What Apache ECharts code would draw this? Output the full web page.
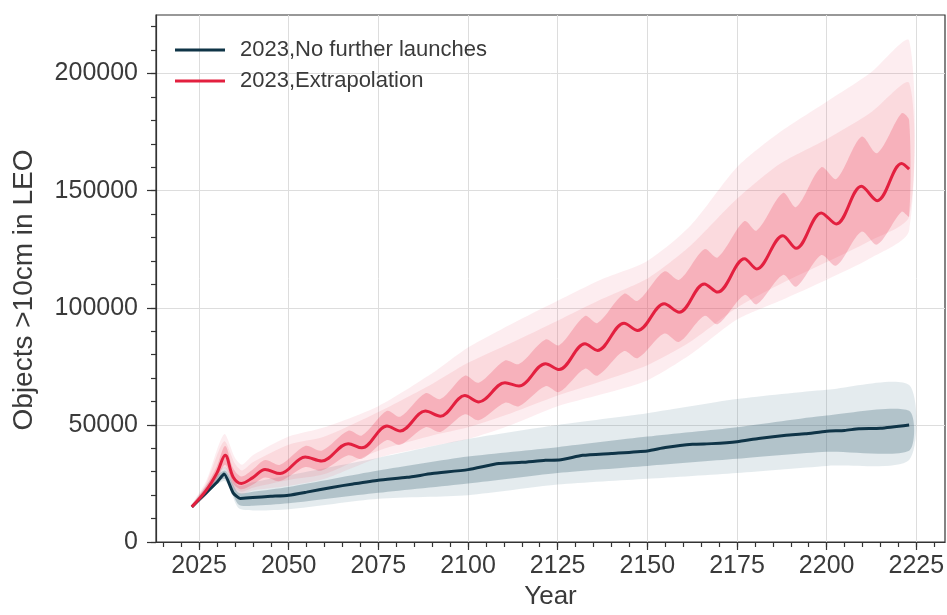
<!DOCTYPE html>
<html>
<head>
<meta charset="utf-8">
<script src="https://cdn.jsdelivr.net/npm/echarts@6/dist/echarts.min.js"></script>
<style>
  html, body { margin: 0; padding: 0; background: #fff; }
  #chart { width: 947px; height: 615px; }
</style>
</head>
<body>
<div id="chart"></div>
<script>
// Tick positions
const xTickYears = [2025, 2050, 2075, 2100, 2125, 2150, 2175, 2200, 2225];
const xMinorYears = [2015, 2020, 2025, 2030, 2035, 2040, 2045, 2050, 2055, 2060, 2065, 2070, 2075, 2080, 2085, 2090, 2095, 2100, 2105, 2110, 2115, 2120, 2125, 2130, 2135, 2140, 2145, 2150, 2155, 2160, 2165, 2170, 2175, 2180, 2185, 2190, 2195, 2200, 2205, 2210, 2215, 2220, 2225, 2230];
const yTickValues = [0, 50000, 100000, 150000, 200000];
const yMinorValues = [0, 10000, 20000, 30000, 40000, 50000, 60000, 70000, 80000, 90000, 100000, 110000, 120000, 130000, 140000, 150000, 160000, 170000, 180000, 190000, 200000, 210000, 220000];

// Ensemble mean, no further launches
const blackYears = [2023, 2027, 2030, 2032, 2034.5, 2036.5, 2040, 2045, 2050, 2055, 2062, 2068, 2075, 2083, 2090, 2100, 2108.6, 2115, 2121.6, 2125.4, 2132, 2140, 2150, 2155, 2162.6, 2168, 2175, 2181, 2188.7, 2194, 2200, 2205, 2209, 2215, 2223];
const blackMean = [15000, 21000, 25500, 29000, 21000, 18600, 19000, 19500, 20000, 21300, 23300, 24800, 26400, 27600, 29200, 30900, 33500, 34000, 34900, 35000, 37000, 37800, 38900, 40300, 41700, 42000, 42800, 44200, 45600, 46200, 47300, 47600, 48400, 48600, 50000];

// Ensemble mean, extrapolated launch traffic
const redYears = [2023, 2027, 2030, 2032.3, 2034.5, 2036.8, 2040, 2043.4, 2047.6, 2054.6, 2059.2, 2066.6, 2070.4, 2077.4, 2081.1, 2088.1, 2092.3, 2099.1, 2103.0, 2110.3, 2114.2, 2121.6, 2125.4, 2132.6, 2136.1, 2143.5, 2147.3, 2154.7, 2158.9, 2165.9, 2169.6, 2177.1, 2180.5, 2187.8, 2191.5, 2198.5, 2202.7, 2209.7, 2214.1, 2220.9, 2223.0];
const redMean = [15000, 22000, 29500, 37000, 27800, 25000, 27500, 31000, 29200, 36300, 34600, 42000, 40200, 49500, 47400, 55900, 53700, 62500, 59800, 68000, 66600, 76100, 73600, 84600, 81800, 93400, 90300, 101700, 98100, 110200, 106700, 120900, 116600, 130800, 125400, 140500, 135800, 151900, 145700, 161600, 159200];
// Central spread of the extrapolation runs (same years as the mean)
const redCoreLow = [15000, 20500, 27000, 33000, 25000, 22500, 24500, 27500, 26000, 32000, 30500, 37000, 35500, 43500, 41500, 49000, 47000, 54500, 52000, 59500, 58000, 66500, 64000, 74000, 71000, 81500, 78500, 89000, 85500, 96500, 93000, 105500, 101500, 114000, 109000, 122500, 118000, 132500, 127000, 141000, 139000];
const redCoreHigh = [15500, 24000, 32500, 41000, 31500, 28000, 31000, 35000, 33000, 41000, 39000, 47500, 45500, 56000, 53500, 63500, 61000, 71000, 68000, 77500, 76000, 86500, 84000, 96500, 93500, 106000, 103000, 115500, 112000, 125000, 121500, 137000, 133000, 149000, 143000, 160000, 155000, 173000, 166000, 183000, 180000];

// Spread of the individual runs, no further launches
const blackBandYears = [2023, 2032, 2036, 2040, 2050, 2075, 2100, 2125, 2150, 2175, 2200, 2223];
const blackCoreLow = [15000, 27000, 16000, 15500, 16500, 21000, 25000, 29500, 32500, 35500, 38500, 39000];
const blackCoreHigh = [15500, 30500, 21000, 21500, 23500, 30500, 36500, 40500, 45000, 49000, 54000, 56000];
const blackOuterLow = [14800, 26000, 14500, 13500, 14000, 18500, 20000, 24500, 27000, 29500, 32500, 35000];
const blackOuterHigh = [16000, 32000, 24000, 25500, 28500, 36000, 44000, 50000, 55000, 61000, 65000, 67000];

// Spread of the individual runs, extrapolation
const redBandYears = [2023, 2027, 2032, 2035, 2037, 2040, 2050, 2060, 2075, 2090, 2100, 2112, 2125, 2137, 2150, 2162, 2175, 2187, 2200, 2212, 2223];
const redMidLow = [14900, 20000, 32000, 23000, 21500, 23200, 26500, 29000, 39000, 45500, 49000, 55000, 62500, 68500, 75500, 85500, 100000, 110000, 119500, 128500, 139000];
const redMidHigh = [15700, 25000, 43000, 33500, 30500, 34000, 41500, 45000, 55500, 67500, 76500, 85000, 94500, 103500, 112500, 126500, 146500, 161500, 172000, 183000, 196000];
const redOuterLow = [14800, 19500, 31000, 22000, 20500, 22000, 24000, 27000, 36000, 41000, 44000, 50000, 58000, 63000, 69000, 80000, 95000, 103000, 112000, 121000, 133000];
const redOuterHigh = [16000, 26000, 46000, 36000, 33000, 37000, 45000, 49000, 58000, 72000, 83000, 93000, 103000, 112000, 120000, 135000, 160000, 175000, 188000, 200000, 214000];

const FONT = 'Liberation Sans, Arial, sans-serif';
const TEXT = '#3a3a3a';
const DARK = '#0f3447';
const RED = '#e3203f';

function pairs(xs, ys) { return xs.map((x, i) => [x, ys[i]]); }

// Filled band between a lower and an upper curve, drawn in data coordinates
function band(years, low, high, color, z, smooth) {
  return {
    type: 'custom',
    xAxisIndex: 0, yAxisIndex: 0,
    silent: true,
    z: z,
    data: [0],
    renderItem: function (params, api) {
      const pts = [];
      for (let i = 0; i < years.length; i++) pts.push(api.coord([years[i], high[i]]));
      for (let i = years.length - 1; i >= 0; i--) pts.push(api.coord([years[i], low[i]]));
      return { type: 'polygon', shape: { points: pts, smooth: smooth }, style: { fill: color } };
    }
  };
}

const plainNumber = v => String(Math.round(v));

const chart = echarts.init(document.getElementById('chart'), null, { renderer: 'canvas' });
chart.setOption({
  animation: false,
  backgroundColor: '#fff',
  grid: [
    { left: 156, right: 2, top: 15, bottom: 73, outerBoundsMode: 'none', containLabel: false,
      show: true, borderColor: '#333', borderWidth: 1.2, backgroundColor: 'transparent' },
    { left: 156, right: 2, top: 15, bottom: 73, outerBoundsMode: 'none', containLabel: false }
  ],
  xAxis: [
    {
      type: 'value', gridIndex: 0, min: 2013, max: 2233,
      axisLine: { onZero: false, lineStyle: { color: '#333', width: 1.2 } },
      axisTick: { customValues: xTickYears, length: 8, lineStyle: { color: '#333', width: 1.2 } },
      axisLabel: { customValues: xTickYears, formatter: plainNumber, fontSize: 25, color: TEXT, margin: 12, fontFamily: FONT },
      splitLine: { show: true, lineStyle: { color: '#dddddd', width: 1 } },
      name: 'Year', nameLocation: 'middle', nameGap: 42,
      nameTextStyle: { fontSize: 26, color: TEXT, fontFamily: FONT }
    },
    {
      type: 'value', gridIndex: 1, min: 2013, max: 2233,
      axisLine: { show: false, onZero: false },
      axisTick: { customValues: xMinorYears, length: 5, lineStyle: { color: '#333', width: 1.2 } },
      axisLabel: { show: false },
      splitLine: { show: false }
    }
  ],
  yAxis: [
    {
      type: 'value', gridIndex: 0, min: 0, max: 225000,
      axisLine: { show: true, onZero: false, lineStyle: { color: '#333', width: 1.2 } },
      axisTick: { show: true, customValues: yTickValues, length: 9, lineStyle: { color: '#333', width: 1.2 } },
      axisLabel: { customValues: yTickValues, formatter: plainNumber, fontSize: 25, color: TEXT, margin: 18, fontFamily: FONT },
      splitLine: { show: true, lineStyle: { color: '#dddddd', width: 1 } },
      name: 'Objects >10cm in LEO', nameLocation: 'middle', nameGap: 118,
      nameTextStyle: { fontSize: 28, color: TEXT, fontFamily: FONT, padding: [0, 23, 0, 0] }
    },
    {
      type: 'value', gridIndex: 1, min: 0, max: 225000,
      axisLine: { show: false, onZero: false },
      axisTick: { show: true, customValues: yMinorValues, length: 5, lineStyle: { color: '#333', width: 1.2 } },
      axisLabel: { show: false },
      splitLine: { show: false }
    }
  ],
  legend: {
    data: ['2023,No further launches', '2023,Extrapolation'],
    orient: 'vertical', left: 170, top: 34,
    icon: 'rect', itemWidth: 50, itemHeight: 3, itemGap: 9,
    textStyle: { fontSize: 22, color: TEXT, fontFamily: FONT, lineHeight: 22, padding: [0, 0, 0, 10] }
  },
  series: [
    band(blackBandYears, blackOuterLow, blackOuterHigh, 'rgba(95,135,155,0.17)', 1, 0.25),
    band(blackBandYears, blackCoreLow, blackCoreHigh, 'rgba(50,92,112,0.28)', 2, 0.25),
    band(redBandYears, redOuterLow, redOuterHigh, 'rgba(240,95,115,0.11)', 3, 0.25),
    band(redBandYears, redMidLow, redMidHigh, 'rgba(238,80,100,0.12)', 4, 0.25),
    band(redYears, redCoreLow, redCoreHigh, 'rgba(236,62,88,0.26)', 5, 0.3),
    {
      name: '2023,No further launches', type: 'line', xAxisIndex: 0, yAxisIndex: 0, z: 6,
      data: pairs(blackYears, blackMean), showSymbol: false, smooth: 0.2,
      lineStyle: { color: DARK, width: 3 }, itemStyle: { color: DARK }
    },
    {
      name: '2023,Extrapolation', type: 'line', xAxisIndex: 0, yAxisIndex: 0, z: 7,
      data: pairs(redYears, redMean), showSymbol: false, smooth: 0.35,
      lineStyle: { color: RED, width: 3 }, itemStyle: { color: RED }
    }
  ]
});
</script>
</body>
</html>
